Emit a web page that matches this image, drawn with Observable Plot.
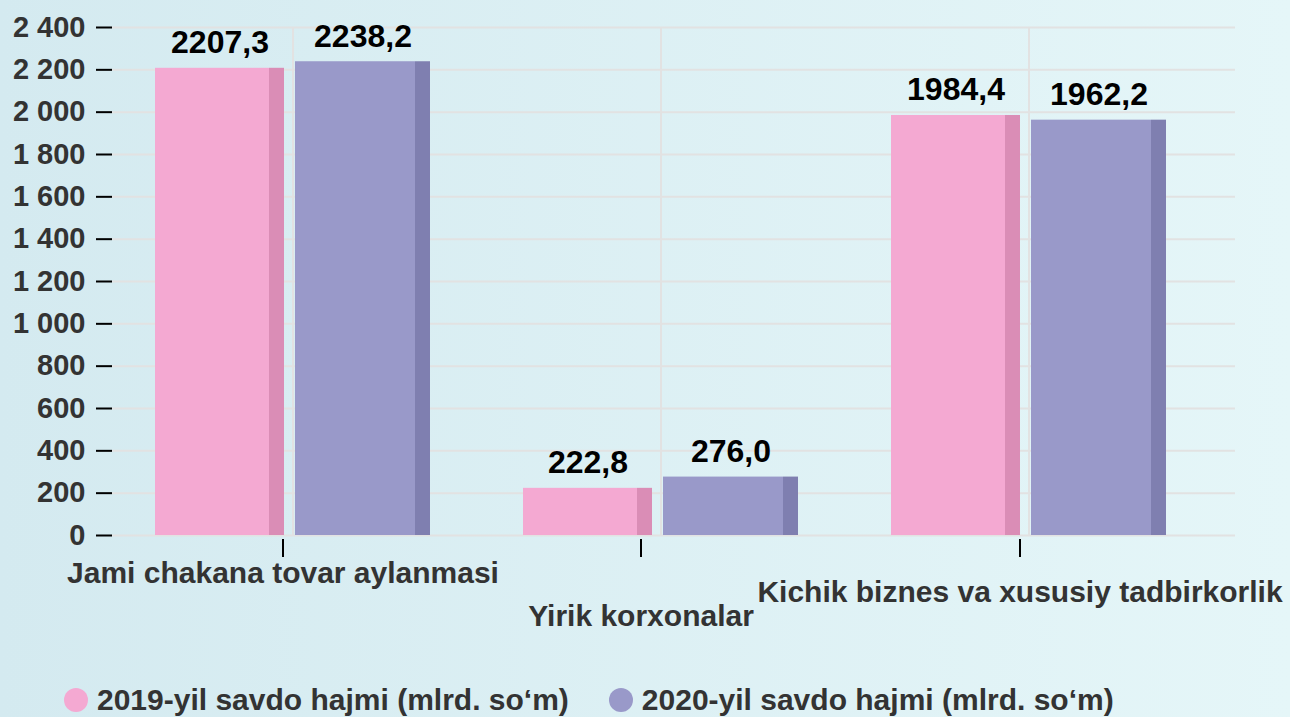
<!DOCTYPE html>
<html>
<head>
<meta charset="utf-8">
<script src="https://cdn.jsdelivr.net/npm/d3@7"></script>
<script src="https://cdn.jsdelivr.net/npm/@observablehq/plot@0.6"></script>
<style>
html, body { margin: 0; padding: 0; }
body {
  width: 1290px; height: 717px; overflow: hidden; position: relative;
  background: linear-gradient(to right, #d4eaf0, #e5f6f8);
  font-family: "Liberation Sans", Arial, sans-serif;
}
#chart svg { display: block; background: transparent; }
#legend {
  position: absolute; left: 64px; top: 683px;
  display: flex; align-items: center; gap: 40px;
  font-size: 30px; font-weight: bold; color: #333; white-space: nowrap;
}
#legend .item { display: flex; align-items: center; }
#legend .dot { width: 24px; height: 24px; border-radius: 50%; margin-right: 9px; }
</style>
</head>
<body>
<div id="chart"></div>
<div id="legend"></div>
<script>
const categories = ["Jami chakana tovar aylanmasi", "Yirik korxonalar", "Kichik biznes va xususiy tadbirkorlik"];
const values2019 = [2207.3, 222.8, 1984.4];
const values2020 = [2238.2, 276.0, 1962.2];
const yTicks = [0, 200, 400, 600, 800, 1000, 1200, 1400, 1600, 1800, 2000, 2200, 2400];
const seriesNames = ["2019-yil savdo hajmi (mlrd. so‘m)", "2020-yil savdo hajmi (mlrd. so‘m)"];
const seriesColors = ["#f4a9d2", "#9999c9"];
const seriesSideColors = ["#da8db6", "#7f7fb0"];

const rows2019 = categories.map((c, i) => ({category: c, value: values2019[i]}));
const rows2020 = categories.map((c, i) => ({category: c, value: values2020[i]}));

const fmtValue = d => d3.format(".1f")(d).replace(".", ",");
const fmtTick = d => d3.format(",")(d).replace(/,/g, " ");
const font = "'Liberation Sans', Arial, sans-serif";

const grid = "#e2e2e2";
const labelPad = [4, 47, 23];
const labelShift = [-10, -20, -9];

const chart = Plot.plot({
  width: 1290,
  height: 640,
  marginTop: 27,
  marginBottom: 105,
  marginLeft: 112,
  marginRight: 55,
  style: {fontFamily: font, background: "transparent", color: "#333"},
  x: {domain: categories, range: [154, 1168], paddingInner: 0.252, paddingOuter: 0},
  y: {domain: [0, 2400]},
  marks: [
    Plot.gridY(yTicks, {stroke: grid, strokeOpacity: 1, strokeWidth: 2}),
    Plot.gridX({stroke: grid, strokeOpacity: 1, strokeWidth: 2}),
    // 2019 bars (front + side)
    Plot.barY(rows2019, {x: "category", y: "value", fill: seriesColors[0], insetLeft: 0, insetRight: 161}),
    Plot.barY(rows2019, {x: "category", y: "value", fill: seriesSideColors[0], insetLeft: 114, insetRight: 146}),
    // 2020 bars (front + side)
    Plot.barY(rows2020, {x: "category", y: "value", fill: seriesColors[1], insetLeft: 140, insetRight: 15}),
    Plot.barY(rows2020, {x: "category", y: "value", fill: seriesSideColors[1], insetLeft: 260, insetRight: 0}),
    // value labels
    Plot.text(rows2019, {x: "category", y: "value", text: d => fmtValue(d.value), dx: -73, dy: -15,
      lineAnchor: "bottom", fontSize: 32, fontWeight: "bold", fill: "#000"}),
    Plot.text(rows2020, {x: "category", y: "value", text: d => fmtValue(d.value), dx: 70, dy: -15,
      lineAnchor: "bottom", fontSize: 32, fontWeight: "bold", fill: "#000"}),
    Plot.axisY({ticks: yTicks, tickFormat: fmtTick, tickSize: 16, tickPadding: 11, label: null,
      fontSize: 29, fontWeight: "bold", fill: "#333", stroke: "#000", strokeWidth: 2}),
    ...categories.map((c, i) => Plot.axisX({ticks: [c], tickSize: 18, tickPadding: labelPad[i], dx: labelShift[i], dy: 4,
      label: null, fontSize: 30, fontWeight: "bold", fill: "#333", stroke: "#000", strokeWidth: 2}))
  ]
});
document.getElementById("chart").appendChild(chart);

const legend = document.getElementById("legend");
seriesNames.forEach((name, i) => {
  const item = document.createElement("div");
  item.className = "item";
  const dot = document.createElement("span");
  dot.className = "dot";
  dot.style.background = seriesColors[i];
  const label = document.createElement("span");
  label.textContent = name;
  item.appendChild(dot);
  item.appendChild(label);
  legend.appendChild(item);
});
</script>
</body>
</html>
